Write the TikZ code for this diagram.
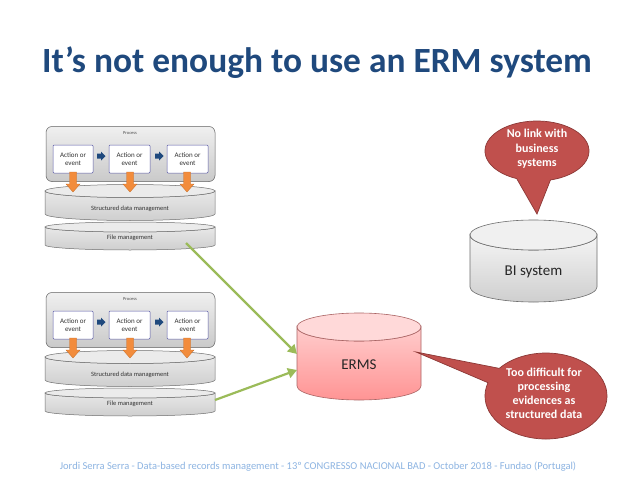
\documentclass[tikz,border=0pt]{standalone}
\usepackage{fontspec}
\setmainfont{Carlito}
\usetikzlibrary{calc,arrows.meta}
\definecolor{titleblue}{RGB}{31,73,125}
\definecolor{calfill}{RGB}{192,80,77}
\definecolor{caldraw}{RGB}{140,56,54}
\definecolor{grn}{RGB}{155,187,89}
\definecolor{footblue}{RGB}{141,180,226}
\definecolor{orfill}{RGB}{242,140,60}
\definecolor{ordraw}{RGB}{200,110,40}
\definecolor{arrblue}{RGB}{31,73,125}
\definecolor{cylline}{RGB}{110,110,110}
\definecolor{pinkline}{RGB}{170,100,100}
\tikzset{
  cylbody/.style={draw=cylline, line width=0.6pt, top color=gray!8, bottom color=gray!38},
  cyltop/.style={draw=cylline, line width=0.6pt, fill=gray!12},
  blkbody/.style={draw=cylline, line width=0.5pt, top color=gray!18, bottom color=gray!38},
  blktop/.style={draw=cylline, line width=0.5pt, fill=gray!16},
  pinkbody/.style={draw=pinkline, line width=0.6pt, top color=red!20, bottom color=red!42},
  pinktop/.style={draw=pinkline, line width=0.6pt, fill=red!15},
  procbox/.style={draw=gray!75!black, line width=0.5pt, rounded corners=6pt, top color=gray!12, bottom color=gray!42},
  actbox/.style={draw=blue!30!gray, line width=0.5pt, fill=white, rounded corners=1pt, align=center,
    font=\fontsize{7}{8}\selectfont, text=black!80, inner sep=0pt},
  smalltxt/.style={font=\fontsize{6.5}{8}\selectfont, text=black!80},
  tinytxt/.style={font=\fontsize{4.5}{5}\selectfont, text=black!70},
  calloutshape/.style={fill=calfill, draw=caldraw, line width=0.7pt},
  callouttxt/.style={font=\fontsize{12}{14.5}\selectfont\bfseries, text=white, align=center},
  cyltxt/.style={font=\fontsize{15}{18}\selectfont, text=black!85},
  grnarrow/.style={draw=grn, line width=2.2pt, -{Triangle[length=9pt,width=10pt]}},
  orarrow/.style={fill=orfill, draw=ordraw, line width=0.3pt},
  bluearrow/.style={fill=arrblue},
}
% cylinder: cx, ytop(center of top ellipse), rx, ry, height, body style, top style
\newcommand\drawcyl[7]{%
  \path[#6] ({#1-#3},#2) -- ({#1-#3},{#2+#5})
     arc[start angle=180,end angle=360,x radius=#3pt,y radius=#4pt]
     -- ({#1+#3},#2)
     arc[start angle=0,end angle=-180,x radius=#3pt,y radius=#4pt] -- cycle;
  \path[#7] (#1,#2) ellipse[x radius=#3pt, y radius=#4pt];
}
\newcommand\downarr[3]{%
  \path[orarrow] ({#1-3.5},#2) -- ({#1+3.5},#2) -- ({#1+3.5},{#3-8}) -- ({#1+7},{#3-8})
    -- (#1,#3) -- ({#1-7},{#3-8}) -- ({#1-3.5},{#3-8}) -- cycle;}
\newcommand\rightarr[2]{%
  \path[bluearrow] (#1,{#2-2.5}) -- ({#1+4},{#2-2.5}) -- ({#1+4},{#2-4.5}) -- ({#1+8.5},#2)
    -- ({#1+4},{#2+4.5}) -- ({#1+4},{#2+2.5}) -- (#1,{#2+2.5}) -- cycle;}
\newcommand\erblock[2]{%
  \begin{scope}[shift={(0,#1)}]
    \drawcyl{130}{227}{85}{5}{18}{blkbody}{blktop}
    \drawcyl{130}{191}{85}{6.5}{23}{blkbody}{blktop}
    \node[smalltxt] (#2sd) at (130,209) {Structured data management};
    \node[smalltxt] (#2fm) at (130,238) {File management};
    \node[procbox, minimum width=169pt, minimum height=55pt] (#2proc) at (130.5,154) {};
    \node[tinytxt] (#2plab) at (130,133.5) {Process};
    \node[actbox, minimum width=40pt, minimum height=28pt] (#2a1) at (73,159) {Action or\\event};
    \node[actbox, minimum width=41pt, minimum height=28pt] (#2a2) at (129.5,159) {Action or\\event};
    \node[actbox, minimum width=41pt, minimum height=28pt] (#2a3) at (187.5,159) {Action or\\event};
    \rightarr{97}{156}
    \rightarr{155}{156}
    \downarr{73}{172}{192}
    \downarr{130}{172}{192}
    \downarr{187}{172}{192}
  \end{scope}}
\begin{document}
\begin{tikzpicture}[x=1pt,y=-1pt]
\useasboundingbox[fill=white] (0,0) rectangle (638,479);
\node[font=\fontsize{35.4}{40}\selectfont\bfseries, text=titleblue, anchor=base] (title) at (317,72) {It’s not enough to use an ERM system};

\erblock{0}{t}
\erblock{166}{b}

% ERMS
\drawcyl{359}{327}{62}{14}{59}{pinkbody}{pinktop}
\node[cyltxt] (erms) at (359,365) {ERMS};

% BI system
\drawcyl{533.5}{235}{63.5}{15}{52}{cylbody}{cyltop}
\node[cyltxt] (bi) at (533.5,272) {BI system};

% green connectors
\coordinate (g1s) at (186,243);
\coordinate (g1e) at (297,354);
\coordinate (g2s) at (215,400);
\coordinate (g2e) at (297,370);
\draw[grnarrow] (g1s) -- (g1e);
\draw[grnarrow] (g2s) -- (g2e);

% callout 1
\coordinate (c1) at (537,151);
\coordinate (tip1) at (537,214);
\path[calloutshape] ($(c1)+(-113:52pt and 30pt)$) -- (tip1) -- ($(c1)+(-75:52pt and 30pt)$)
   arc[start angle=-75,end angle=247,x radius=52pt,y radius=30pt] -- cycle;
\node[callouttxt] (cal1) at (537,149) {No link with\\business\\systems};

% callout 2
\coordinate (c2) at (546,396);
\coordinate (tip2) at (416,352);
\path[calloutshape] ($(c2)+(140:61pt and 43pt)$) -- (tip2) -- ($(c2)+(162:61pt and 43pt)$)
   arc[start angle=162,end angle=500,x radius=61pt,y radius=43pt] -- cycle;
\node[callouttxt, font=\fontsize{12}{14}\selectfont\bfseries] (cal2) at (544,393) {Too difficult for\\processing\\evidences as\\structured data};

% footer
\node[font=\fontsize{10.5}{12}\selectfont, text=footblue] (foot) at (318,467) {Jordi Serra Serra - Data-based records management - 13º CONGRESSO NACIONAL BAD - October 2018 - Fundao (Portugal)};
\end{tikzpicture}
\end{document}
